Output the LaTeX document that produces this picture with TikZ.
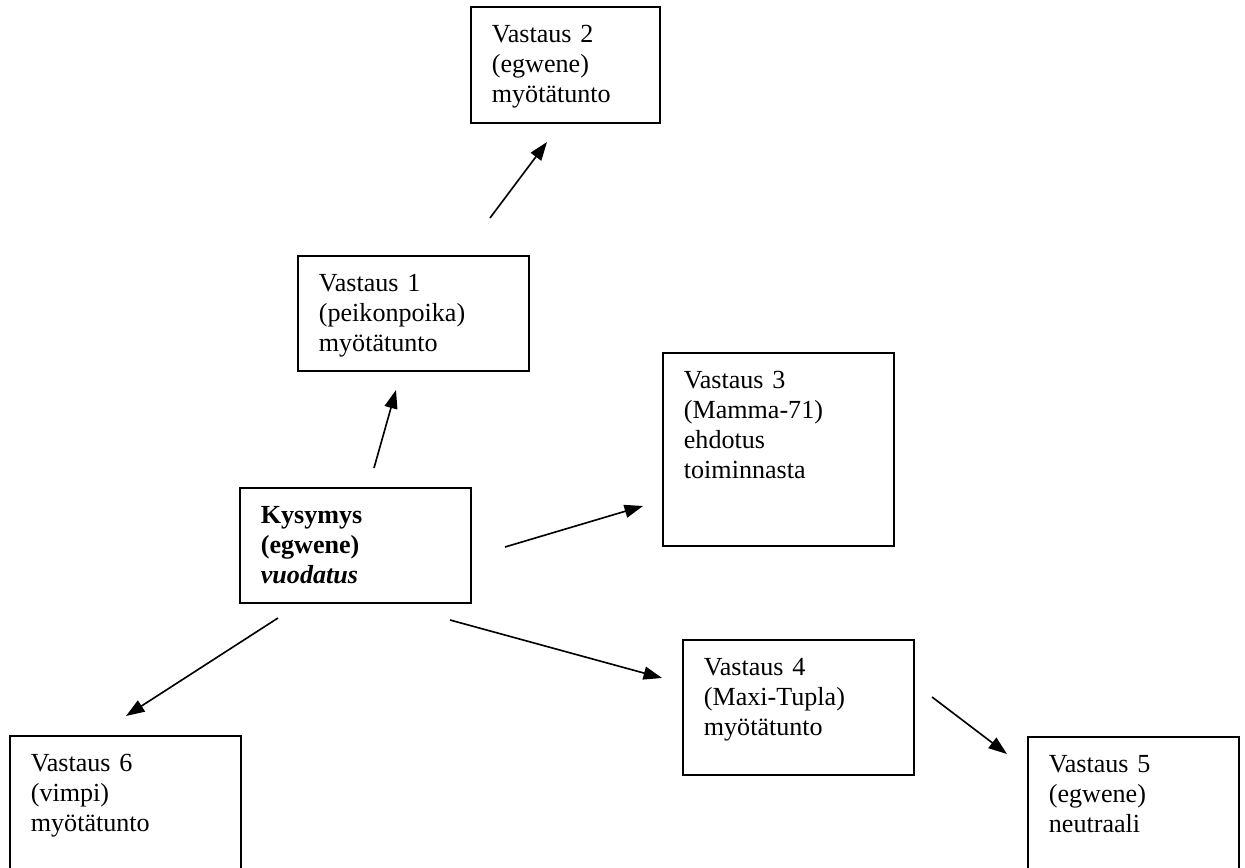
\documentclass[tikz,border=0pt]{standalone}
\usepackage{fontspec}
\setmainfont{Liberation Serif}
\usetikzlibrary{arrows.meta}

\tikzset{
  box/.style={draw, line width=0.75pt, anchor=north west, align=left,
    inner xsep=9.7pt, inner ysep=7.6pt, text height=9pt,
    font=\fontsize{12pt}{13.8pt}\selectfont},
  arr/.style={line width=0.75pt, -{Triangle[length=8.5pt,width=6pt]}}
}

\begin{document}
\begin{tikzpicture}[x=0.46pt, y=-0.46pt]
  \useasboundingbox (0,0) rectangle (1245,868);
  \clip (0,0) rectangle (1245,868);

  \node[box, text width=67.5pt, text depth=29.2pt] (v2) at (470,6)
    {Vastaus 2\\(egwene)\\myötätunto};
  \node[box, text width=86.9pt, text depth=28.7pt] (v1) at (297,255)
    {Vastaus 1\\(peikonpoika)\\myötätunto};
  \node[box, text width=86.9pt, text depth=28.7pt] (kys) at (239,487)
    {\textbf{Kysymys}\\\textbf{(egwene)}\\\textbf{\textit{vuodatus}}};
  \node[box, text width=86.9pt, text depth=64.6pt] (v3) at (662,352)
    {Vastaus 3\\(Mamma-71)\\ehdotus\\toiminnasta};
  \node[box, text width=86.9pt, text depth=37.9pt] (v4) at (682,639)
    {Vastaus 4\\(Maxi-Tupla)\\myötätunto};
  \node[box, text width=77.7pt, text depth=49.4pt] (v5) at (1027,736)
    {Vastaus 5\\(egwene)\\neutraali};
  \node[box, text width=86.9pt, text depth=49.4pt] (v6) at (9,735)
    {Vastaus 6\\(vimpi)\\myötätunto};

  % nuolten päät
  \coordinate (kys-v1) at (374,468);
  \coordinate (v1-kys) at (396,390);
  \coordinate (v1-v2) at (490,218);
  \coordinate (v2-v1) at (547,142);
  \coordinate (kys-v3) at (505,547);
  \coordinate (v3-kys) at (643,506);
  \coordinate (kys-v4) at (450,620);
  \coordinate (v4-kys) at (662,678);
  \coordinate (v4-v5) at (932,697);
  \coordinate (v5-v4) at (1007,754);
  \coordinate (kys-v6) at (278,618);
  \coordinate (v6-kys) at (126,716);

  \draw[arr] (kys-v1) -- (v1-kys);
  \draw[arr] (v1-v2) -- (v2-v1);
  \draw[arr] (kys-v3) -- (v3-kys);
  \draw[arr] (kys-v4) -- (v4-kys);
  \draw[arr] (v4-v5) -- (v5-v4);
  \draw[arr] (kys-v6) -- (v6-kys);
\end{tikzpicture}
\end{document}
